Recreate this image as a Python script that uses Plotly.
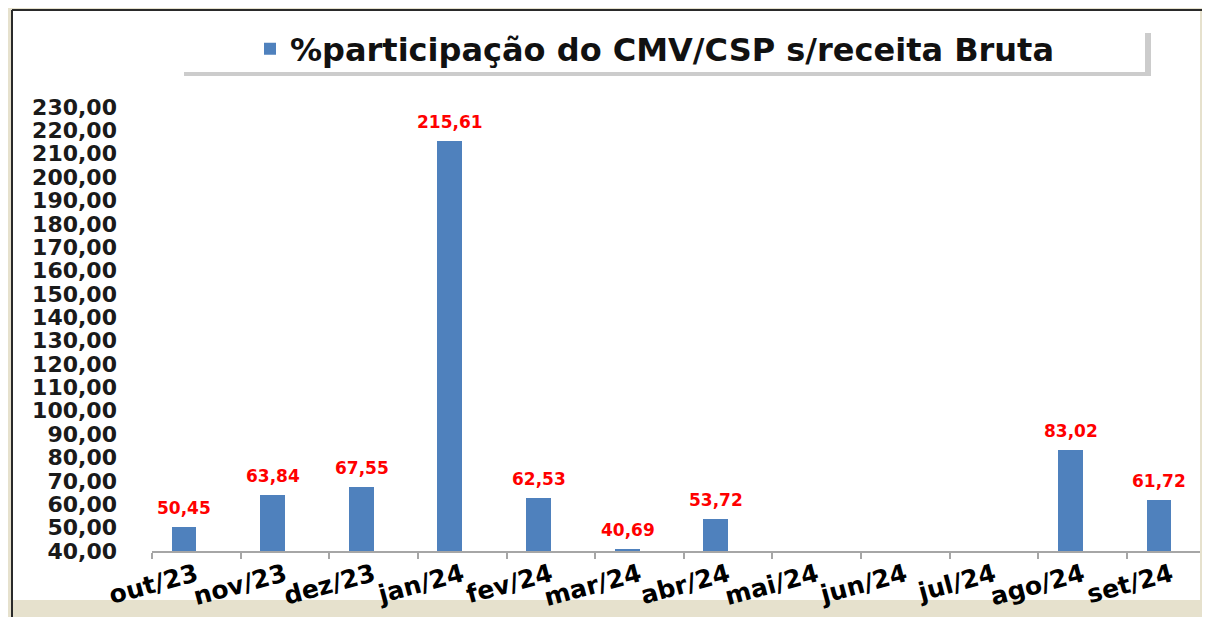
import plotly.graph_objects as go

categories = ["out/23", "nov/23", "dez/23", "jan/24", "fev/24", "mar/24",
              "abr/24", "mai/24", "jun/24", "jul/24", "ago/24", "set/24"]
values = [50.45, 63.84, 67.55, 215.61, 62.53, 40.69, 53.72, None, None, None, 83.02, 61.72]
series_name = "%participação do CMV/CSP s/receita Bruta"
y_ticks = list(range(40, 231, 10))
y_tick_text = [f"{v},00" for v in y_ticks]

W, H = 1210, 617
OFF = 8  # page body margin
def px_x(p): return (p - OFF) / W
def px_y(p): return 1 - (p - OFF) / H

BAR_COLOR = "#4f81bd"
FONT = "DejaVu Sans"

fig = go.Figure()
fig.add_trace(go.Bar(
    x=categories, y=values, name=series_name,
    marker=dict(color=BAR_COLOR, line=dict(width=0)),
    width=0.28, offset=-0.28,
    showlegend=True,
))

annotations = []
for c, v in zip(categories, values):
    if v is None:
        continue
    annotations.append(dict(
        x=c, y=v, xref="x", yref="y",
        text=f"{v:.2f}".replace(".", ","),
        showarrow=False, yshift=19, xshift=-12,
        font=dict(family=FONT, size=17, color="#ff0000", weight="bold"),
        bgcolor="white",
    ))

shapes = [
    # white card
    dict(type="rect", xref="paper", yref="paper",
         x0=px_x(12), x1=px_x(1200), y0=px_y(600), y1=px_y(10),
         fillcolor="white", line=dict(width=0), layer="below"),
    # legend box shadow
    dict(type="rect", xref="paper", yref="paper",
         x0=px_x(184), x1=px_x(1151), y0=px_y(76), y1=px_y(33),
         fillcolor="#9a9a9a", line=dict(width=0), layer="below", opacity=0.5),
    # legend box
    dict(type="rect", xref="paper", yref="paper",
         x0=px_x(178), x1=px_x(1145), y0=px_y(72), y1=px_y(28),
         fillcolor="white", line=dict(width=0), layer="below"),
    # dark top / left frame lines
    dict(type="line", xref="paper", yref="paper",
         x0=px_x(12), x1=1, y0=px_y(10), y1=px_y(10),
         line=dict(color="#2a2a2a", width=2), layer="below"),
    dict(type="line", xref="paper", yref="paper",
         x0=px_x(12), x1=px_x(12), y0=0, y1=px_y(10),
         line=dict(color="#2a2a2a", width=2), layer="below"),
]

fig.update_layout(
    width=W, height=H, autosize=False,
    margin=dict(l=0, r=0, t=0, b=0, pad=0, autoexpand=False),
    paper_bgcolor="#e6e1cd",
    plot_bgcolor="rgba(0,0,0,0)",
    font=dict(family=FONT),
    shapes=shapes,
    annotations=annotations,
    bargap=0,
    legend=dict(
        orientation="h", x=px_x(250), xanchor="left",
        y=px_y(49), yanchor="middle",
        bgcolor="rgba(0,0,0,0)",
        font=dict(family=FONT, size=32, color="#111111", weight="bold"),
    ),
    xaxis=dict(
        domain=[px_x(152), px_x(1200)],
        range=[-0.5, -0.5 + (1200 - 152) / 88.64],
        type="category", automargin=False,
        showline=True, linecolor="#a6a6a6", linewidth=2,
        ticks="outside", tickson="boundaries", ticklen=6, tickcolor="#a6a6a6", tickwidth=2,
        tickangle=-15, ticklabelstandoff=-2,
        tickfont=dict(family=FONT, size=25, color="#000000", weight="bold"),
        showgrid=False, zeroline=False,
    ),
    yaxis=dict(
        domain=[px_y(551), px_y(107)],
        range=[40, 230], automargin=False,
        tickvals=y_ticks, ticktext=y_tick_text,
        tickfont=dict(family=FONT, size=22, color="#1a1a1a", weight="bold"),
        ticklabelstandoff=34,
        showgrid=False, zeroline=False, showline=False, ticks="",
    ),
)

fig.write_html("out.html")
